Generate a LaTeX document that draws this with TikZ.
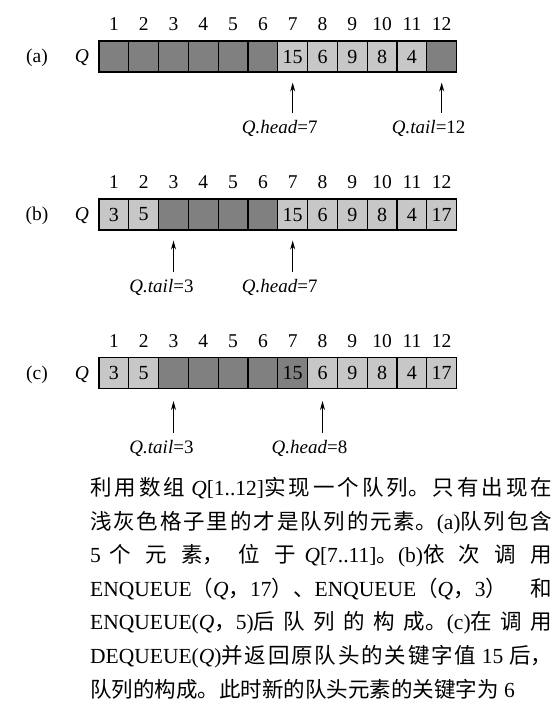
\documentclass[tikz,border=0pt]{standalone}
\usepackage{fontspec}
\setmainfont{Liberation Serif}
\newfontfamily\cjk{Noto Sans CJK SC}
\usetikzlibrary{arrows.meta,positioning}
\XeTeXlinebreaklocale "zh"
\XeTeXlinebreakskip=0pt plus 12pt
\newcommand{\zh}[1]{{\cjk #1}}

\tikzset{
  cell/.style={draw, line width=1.1pt, minimum width=29.8pt, minimum height=31pt, inner sep=0pt, font=\fontsize{20}{20}\selectfont},
  used/.style={cell, fill=black!22},
  free/.style={cell, fill=black!50},
  idx/.style={inner sep=0pt, font=\fontsize{19.5}{20}\selectfont},
  rowname/.style={inner sep=0pt, anchor=base, font=\fontsize{19.5}{20}\selectfont},
  ptr/.style={-{Stealth[length=9pt,width=5pt]}, line width=0.9pt, shorten <=6pt},
  ptrlbl/.style={inner sep=1pt, font=\fontsize{19}{19}\selectfont},
  caption/.style={inner sep=0pt, text width=462pt, align=justify, font=\fontsize{21.5}{33.6}\selectfont}
}

\begin{document}
\begin{tikzpicture}[x=1pt, y=-1pt]
	\useasboundingbox (0,0) rectangle (556,711);

	% Row (a): queue in Q[7..11]
	\foreach \i/\v/\s in {1//free, 2//free, 3//free, 4//free, 5//free, 6//free, 7/15/used, 8/6/used, 9/9/used, 10/8/used, 11/4/used, 12//free}
		\node[\s] (a\i) at (84.1+29.8*\i, 56.5){\v};
	% Row (b): after three enqueues
	\foreach \i/\v/\s in {1/3/used, 2/5/used, 3//free, 4//free, 5//free, 6//free, 7/15/used, 8/6/used, 9/9/used, 10/8/used, 11/4/used, 12/17/used}
		\node[\s] (b\i) at (84.1+29.8*\i, 214.5){\v};
	% Row (c): after one dequeue
	\foreach \i/\v/\s in {1/3/used, 2/5/used, 3//free, 4//free, 5//free, 6//free, 7/15/free, 8/6/used, 9/9/used, 10/8/used, 11/4/used, 12/17/used}
		\node[\s] (c\i) at (84.1+29.8*\i, 373){\v};

	% Indices above the cells
	\foreach \r in {a,b,c}
		\foreach \i in {1,...,12}
			\node[idx] (i\r\i) at ([yshift=32pt]\r\i.center){\i};

	% Row names
	\node[rowname] (la) at (37, 63){(a)};
	\node[rowname] (qa) at (82, 63){\textit{Q}};
	\node[rowname] (lb) at (37, 221){(b)};
	\node[rowname] (qb) at (82, 221){\textit{Q}};
	\node[rowname] (lc) at (37, 379.5){(c)};
	\node[rowname] (qc) at (82, 379.5){\textit{Q}};

	% Head and tail pointers
	\node[ptrlbl] (ha) at ([xshift=-13pt, yshift=-72pt]a7.center){\textit{Q.head}=7};
	\node[ptrlbl] (ta) at ([xshift=-13pt, yshift=-72pt]a12.center){\textit{Q.tail}=12};
	\node[ptrlbl] (tb) at ([xshift=-12pt, yshift=-73pt]b3.center){\textit{Q.tail}=3};
	\node[ptrlbl] (hb) at ([xshift=-13pt, yshift=-73pt]b7.center){\textit{Q.head}=7};
	\node[ptrlbl] (tc) at ([xshift=-12pt, yshift=-75pt]c3.center){\textit{Q.tail}=3};
	\node[ptrlbl] (hc) at ([xshift=-13pt, yshift=-75pt]c8.center){\textit{Q.head}=8};
	\draw[ptr] (ha.north -| a7.south) -- ([yshift=-10pt]a7.south);
	\draw[ptr] (ta.north -| a12.south) -- ([yshift=-10pt]a12.south);
	\draw[ptr] (tb.north -| b3.south) -- ([yshift=-10pt]b3.south);
	\draw[ptr] (hb.north -| b7.south) -- ([yshift=-10pt]b7.south);
	\draw[ptr] (tc.north -| c3.south) -- ([yshift=-12pt]c3.south);
	\draw[ptr] (hc.north -| c8.south) -- ([yshift=-12pt]c8.south);

	% Caption
	\node[caption, anchor=north west] (cap) at (90, 477){\tolerance=10000\noindent
		\zh{利用数组} \textit{Q}[1..12]\zh{实现一个队列。只有出现在}\linebreak
		\zh{浅灰色格子里的才是队列的元素。}(a)\zh{队列包含}\linebreak
		5 \zh{个元素，位于} \textit{Q}[7..11]\zh{。}(b)\zh{依次调用}\linebreak
		ENQUEUE\zh{（}\textit{Q}\zh{，}17\zh{）、}ENQUEUE\zh{（}\textit{Q}\zh{，}3\zh{）和}\linebreak
		ENQUEUE(\textit{Q}\zh{，}5)\zh{后队列的构成。}(c)\zh{在调用}\linebreak
		DEQUEUE(\textit{Q})\zh{并返回原队头的关键字值} 15 \zh{后，}\linebreak
		\zh{队列的构成。此时新的队头元素的关键字为} 6};

\end{tikzpicture}
\end{document}
